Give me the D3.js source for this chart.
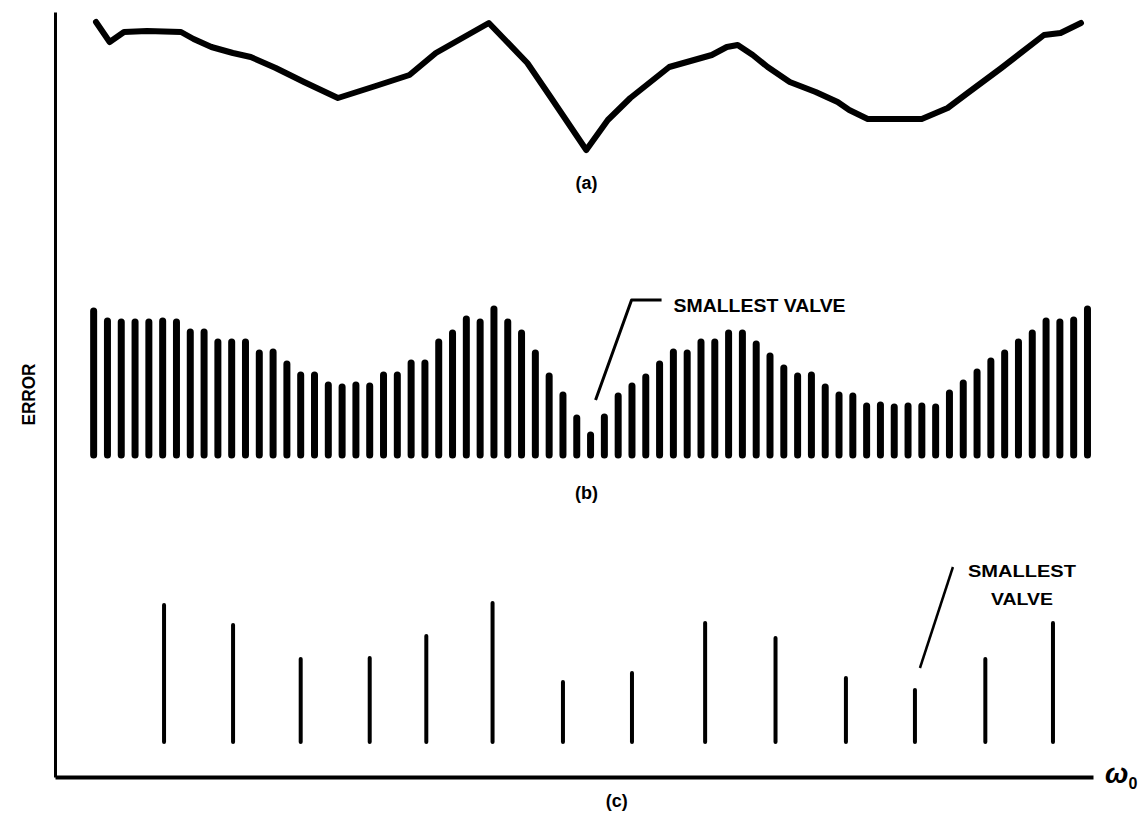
<!DOCTYPE html>
<html>
<head>
<meta charset="utf-8">
<script src="https://cdn.jsdelivr.net/npm/d3@7"></script>
<style>
  html, body { margin: 0; padding: 0; background: #fff; }
  svg { display: block; }
  text { font-family: "Liberation Sans", Arial, Helvetica, sans-serif; font-weight: bold; fill: #000; }
</style>
</head>
<body>
<svg id="chart" width="1142" height="819"></svg>
<script>
// ---- DATA (x in sample index of ω0, y in error units) ----
// (a) continuous error curve
const curveOmega = [0.17, 1.16, 2.2, 3.87, 6.33, 7.24, 8.53, 10.09, 11.38, 13.19, 15.24, 17.7, 20.43, 22.88, 24.79, 28.63, 31.42, 33.1, 35.69, 37.25, 38.88, 41.7, 44.78, 45.87, 46.66, 47.75, 48.83, 50.43, 52.31, 53.9, 54.74, 56.08, 59.99, 61.87, 63.32, 65.76, 68.85, 70.05, 71.53];
const curveError = [138, 118, 128, 129, 128, 121, 113, 107, 103, 92, 78, 62, 74, 85, 107, 137, 97, 63, 10, 40, 62, 93, 105, 113, 115, 105, 93, 78, 68, 58, 50, 41, 41, 52, 67, 92, 125, 127, 137];

// (b) densely sampled error values (one per ω0 sample, index 0..72)
const denseError = [144, 134, 133, 133, 133, 134, 133, 123, 123, 113, 113, 113, 102, 103, 91, 80, 80, 70, 68, 70, 69, 80, 80, 92, 92, 113, 122, 136, 133, 146, 133, 122, 102, 79, 60, 37, 20, 38, 59, 69, 78, 91, 103, 102, 113, 113, 122, 122, 111, 99, 87, 79, 80, 68, 60, 59, 49, 50, 48, 49, 49, 48, 62, 72, 83, 94, 102, 113, 122, 134, 133, 135, 146];

// (c) coarsely sampled error values
const coarseOmega = [5.1, 10.1, 15.0, 20.0, 24.1, 28.9, 34.0, 39.0, 44.3, 49.4, 54.5, 59.5, 64.6, 69.5];
const coarseError = [137, 117, 83, 84, 106, 139, 60, 69, 119, 104, 64, 52, 83, 119];

// labels
const panelLabels = ["(a)", "(b)", "(c)"];
const yAxisTitle = "ERROR";
const xAxisTitle = "ω";
const xAxisSub = "0";
const noteB = "SMALLEST VALVE";
const noteC = ["SMALLEST", "VALVE"];
const smallestDenseIndex = 36;
const smallestCoarseIndex = 11;

// ---- CHART ----
const svg = d3.select("#chart");

const x = d3.scaleLinear().domain([-2.8, 72.4]).range([55, 1093]);
const yA = d3.scaleLinear().domain([0, 150]).range([160, 10]);
const yB = d3.scaleLinear().domain([0, 150]).range([455, 305]);
const yC = d3.scaleLinear().domain([0, 150]).range([742, 592]);
const yFrame = d3.scaleLinear().domain([0, 1]).range([777, 12]);

// axes (no ticks, heavy lines)
const xAxisG = svg.append("g")
  .attr("transform", `translate(0,${yFrame(0)})`)
  .call(d3.axisBottom(x).tickValues([]).tickSizeOuter(0));
xAxisG.select(".domain").attr("stroke", "#000").attr("stroke-width", 4);

const yAxisG = svg.append("g")
  .attr("transform", `translate(${x(-2.8)},0)`)
  .call(d3.axisLeft(yFrame).tickValues([]).tickSizeOuter(0));
yAxisG.select(".domain").attr("stroke", "#000").attr("stroke-width", 3);

// (a) curve
const line = d3.line()
  .x((d, i) => x(curveOmega[i]))
  .y(d => yA(d));
svg.append("path")
  .datum(curveError)
  .attr("d", line)
  .attr("fill", "none")
  .attr("stroke", "#000")
  .attr("stroke-width", 6)
  .attr("stroke-linejoin", "round")
  .attr("stroke-linecap", "round");

// (b) dense bars
svg.append("g").selectAll("line")
  .data(denseError)
  .join("line")
  .attr("x1", (d, i) => x(i))
  .attr("x2", (d, i) => x(i))
  .attr("y1", yB(0))
  .attr("y2", d => yB(d))
  .attr("stroke", "#000")
  .attr("stroke-width", 7)
  .attr("stroke-linecap", "round");

// (c) coarse bars
svg.append("g").selectAll("line")
  .data(coarseError)
  .join("line")
  .attr("x1", (d, i) => x(coarseOmega[i]))
  .attr("x2", (d, i) => x(coarseOmega[i]))
  .attr("y1", yC(0))
  .attr("y2", d => yC(d))
  .attr("stroke", "#000")
  .attr("stroke-width", 4)
  .attr("stroke-linecap", "round");

// panel labels
const labelPos = [[x(35.7), 189], [x(35.7), 499], [x(37.9), 807]];
panelLabels.forEach((t, i) => {
  svg.append("text")
    .attr("x", labelPos[i][0])
    .attr("y", labelPos[i][1])
    .attr("text-anchor", "middle")
    .attr("font-size", 18)
    .text(t);
});

// Y axis title
svg.append("text")
  .attr("transform", `translate(35,${yFrame(0.5)}) rotate(-90)`)
  .attr("text-anchor", "middle")
  .attr("font-size", 18)
  .attr("textLength", 62)
  .attr("lengthAdjust", "spacingAndGlyphs")
  .text(yAxisTitle);

// X axis title ω0
const wT = svg.append("text")
  .attr("x", x(72.4) + 12)
  .attr("y", yFrame(0) + 6)
  .attr("font-size", 28)
  .attr("font-style", "italic")
  .text(xAxisTitle);
wT.append("tspan")
  .attr("font-size", 16)
  .attr("dy", 6)
  .attr("font-style", "normal")
  .text(xAxisSub);

// annotation (b)
const bx = x(smallestDenseIndex);
const by = yB(denseError[smallestDenseIndex]);
svg.append("path")
  .attr("d", d3.line()([[bx + 5, by - 35], [bx + 41, by - 135], [bx + 71, by - 135]]))
  .attr("fill", "none")
  .attr("stroke", "#000")
  .attr("stroke-width", 3)
  .attr("stroke-linejoin", "round");
svg.append("text")
  .attr("x", bx + 83)
  .attr("y", by - 123)
  .attr("font-size", 18)
  .attr("textLength", 172)
  .attr("lengthAdjust", "spacingAndGlyphs")
  .text(noteB);

// annotation (c)
const cx = x(coarseOmega[smallestCoarseIndex]);
const cy = yC(coarseError[smallestCoarseIndex]);
svg.append("line")
  .attr("x1", cx + 5).attr("y1", cy - 22)
  .attr("x2", cx + 38).attr("y2", cy - 123)
  .attr("stroke", "#000").attr("stroke-width", 2.5);
noteC.forEach((t, i) => {
  svg.append("text")
    .attr("x", cx + 107)
    .attr("y", cy - 113 + i * 28)
    .attr("text-anchor", "middle")
    .attr("font-size", 17)
    .attr("textLength", i === 0 ? 108 : 62)
    .attr("lengthAdjust", "spacingAndGlyphs")
    .text(t);
});
</script>
</body>
</html>
